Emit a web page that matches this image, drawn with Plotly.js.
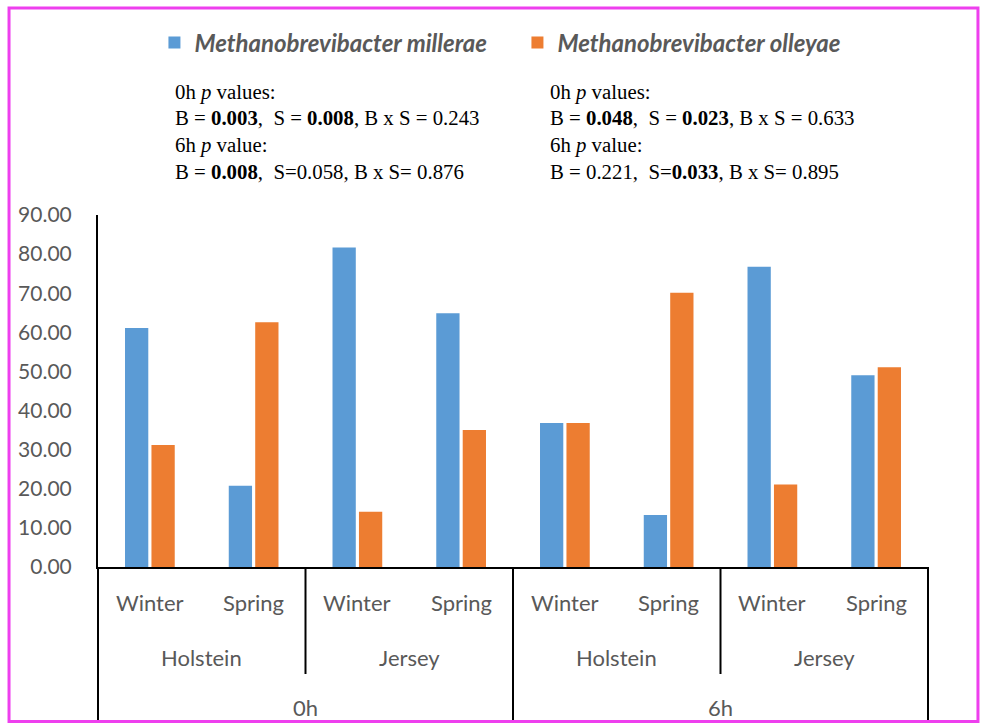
<!DOCTYPE html>
<html>
<head>
<meta charset="utf-8">
<script src="https://cdn.plot.ly/plotly-3.0.1.min.js"></script>
<style>
html,body{margin:0;padding:0;background:#fff;}
#chart{width:991px;height:724px;}
</style>
</head>
<body>
<div id="chart"></div>
<script>
// ---- data ----
const times = ['0h', '6h'];
const breeds = ['Holstein', 'Jersey'];
const seasons = ['Winter', 'Spring'];
const seriesNames = ['Methanobrevibacter millerae', 'Methanobrevibacter olleyae'];
const millerae = [61.1, 20.8, 81.7, 64.9, 36.8, 13.3, 76.8, 49.0];
const olleyae  = [31.2, 62.6, 14.1, 35.0, 36.8, 70.1, 21.1, 51.1];
const yTicks = [0, 10, 20, 30, 40, 50, 60, 70, 80, 90];
const pMillerae = [
  '0h <i>p</i> values:',
  'B = <b>0.003</b>,\u00a0 S = <b>0.008</b>, B x S = 0.243',
  '6h <i>p</i> value:',
  'B = <b>0.008</b>,\u00a0 S=0.058, B x S= 0.876'
];
const pOlleyae = [
  '0h <i>p</i> values:',
  'B = <b>0.048</b>,\u00a0 S = <b>0.023</b>, B x S = 0.633',
  '6h <i>p</i> value:',
  'B = 0.221,\u00a0 S=<b>0.033</b>, B x S= 0.895'
];

// ---- build categories ----
const categories = [];
times.forEach(t => breeds.forEach(b => seasons.forEach(s => categories.push(t + ' ' + b + ' ' + s))));

const grey = '#595959';
const sans = 'Lato, "Open Sans", sans-serif';
const serif = '"Liberation Serif", "Times New Roman", serif';

const traces = [
  {type: 'bar', name: seriesNames[0], x: categories, y: millerae, marker: {color: '#5B9BD5'}, hoverinfo: 'y'},
  {type: 'bar', name: seriesNames[1], x: categories, y: olleyae, marker: {color: '#ED7D31'}, hoverinfo: 'y'}
];

const annotations = [];
// season labels
categories.forEach((c, i) => {
  annotations.push({xref: 'x', yref: 'paper', x: i, y: -0.102, text: seasons[i % 2],
    showarrow: false, xanchor: 'center', yanchor: 'middle', font: {family: sans, size: 22, color: grey}});
});
// breed labels
for (let t = 0; t < times.length; t++) {
  for (let b = 0; b < breeds.length; b++) {
    const idx = t * 4 + b * 2 + 0.5;
    annotations.push({xref: 'x', yref: 'paper', x: idx, y: -0.256, text: breeds[b],
      showarrow: false, xanchor: 'center', yanchor: 'middle', font: {family: sans, size: 22, color: grey}});
  }
  annotations.push({xref: 'x', yref: 'paper', x: t * 4 + 1.5, y: -0.398, text: times[t],
    showarrow: false, xanchor: 'center', yanchor: 'middle', font: {family: sans, size: 22, color: grey}});
}
// p-value text blocks
const lineY = [1.349, 1.2756, 1.1989, 1.1222];
[[pMillerae, 0.0904], [pOlleyae, 0.5422]].forEach(([lines, xp]) => {
  lines.forEach((txt, k) => {
    annotations.push({xref: 'paper', yref: 'paper', x: xp, y: lineY[k], text: txt,
      showarrow: false, xanchor: 'left', yanchor: 'middle', align: 'left',
      font: {family: serif, size: 20.8, color: '#000'}});
  });
});

// divider lines for category levels
const shapes = [];
const dividers = [[0, -0.4347], [0.25, -0.304], [0.5, -0.4347], [0.75, -0.304], [1, -0.4347]];
dividers.forEach(([xp, y1]) => {
  shapes.push({type: 'line', xref: 'paper', yref: 'paper', x0: xp, x1: xp, y0: 0, y1: y1,
    line: {color: '#000', width: 2}});
});
// outer magenta frame
shapes.push({type: 'rect', xref: 'paper', yref: 'paper', x0: -0.1072, x1: 1.0602, y0: -0.439, y1: 1.588,
  line: {color: '#EE3FEE', width: 3}, fillcolor: 'rgba(0,0,0,0)'});

const layout = {
  width: 991, height: 724,
  margin: {l: 98, r: 63, t: 215, b: 157},
  paper_bgcolor: '#fff', plot_bgcolor: '#fff',
  barmode: 'group', bargap: 0.49, bargroupgap: 0.12,
  showlegend: true,
  legend: {orientation: 'h', x: 0.068, xanchor: 'left', y: 1.489, yanchor: 'middle',
    font: {family: sans, size: 24, color: grey, style: 'italic', weight: 'bold'},
    entrywidth: 318, entrywidthmode: 'pixels', itemclick: false, itemdoubleclick: false},
  xaxis: {type: 'category', categoryorder: 'array', categoryarray: categories,
    showticklabels: false, ticks: '', showline: true, linecolor: '#000', linewidth: 2,
    showgrid: false, zeroline: false, fixedrange: true},
  yaxis: {range: [0, 90], tickvals: yTicks, tickformat: '.2f', ticks: '',
    showline: true, linecolor: '#000', linewidth: 2, showgrid: false, zeroline: false,
    ticklabelstandoff: 20, tickfont: {family: sans, size: 21, color: grey}, fixedrange: true},
  annotations: annotations,
  shapes: shapes
};

Plotly.newPlot('chart', traces, layout, {displayModeBar: false, staticPlot: true});
</script>
</body>
</html>
